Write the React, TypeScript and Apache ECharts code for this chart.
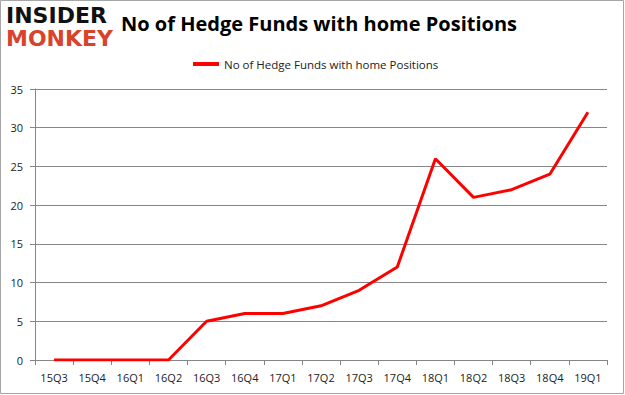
import React, { useEffect, useRef } from "react";
import * as echarts from "echarts";

const categories = ["15Q3", "15Q4", "16Q1", "16Q2", "16Q3", "16Q4", "17Q1", "17Q2", "17Q3", "17Q4", "18Q1", "18Q2", "18Q3", "18Q4", "19Q1"];
const hedgeFunds = [0, 0, 0, 0, 5, 6, 6, 7, 9, 12, 26, 21, 22, 24, 32];
const seriesName = "No of Hedge Funds with home Positions";
const titleText = "No of Hedge Funds with home Positions";

export default function App() {
  const ref = useRef<HTMLDivElement>(null);
  useEffect(() => {
    document.body.style.margin = "0";
    const chart = echarts.init(ref.current!, null, { renderer: "svg" });
    const font = "'Open Sans', 'DejaVu Sans', sans-serif";
    chart.setOption({
      animation: false,
      backgroundColor: "#ffffff",
      title: {
        text: titleText,
        left: 314,
        textAlign: "center",
        top: 8,
        textStyle: { fontFamily: font, fontSize: 20, fontWeight: "bold", color: "#000" },
      },
      legend: {
        data: [seriesName],
        top: 53,
        left: 188,
        itemWidth: 26,
        itemHeight: 4,
        icon: "rect",
        itemGap: 4,
        textStyle: { fontFamily: font, fontSize: 11.5, color: "#222" },
      },
      grid: { left: 35, right: 18, top: 89, bottom: 35 },
      xAxis: {
        type: "category",
        data: categories,
        boundaryGap: true,
        axisLine: { lineStyle: { color: "#868686" } },
        axisTick: { show: true, alignWithLabel: false, length: 5, lineStyle: { color: "#868686" } },
        axisLabel: { fontFamily: font, fontSize: 11, color: "#222", margin: 12 },
      },
      yAxis: {
        type: "value",
        min: 0,
        max: 35,
        interval: 5,
        axisLine: { show: true, lineStyle: { color: "#868686" } },
        axisTick: { show: true, length: 5, lineStyle: { color: "#868686" } },
        axisLabel: { fontFamily: font, fontSize: 11, color: "#222", margin: 12 },
        splitLine: { lineStyle: { color: "#868686" } },
      },
      series: [
        {
          name: seriesName,
          type: "line",
          data: hedgeFunds,
          symbol: "none",
          lineStyle: { color: "#ff0000", width: 3 },
          itemStyle: { color: "#ff0000" },
        },
      ],
      graphic: [
        {
          type: "rect",
          shape: { x: 0.5, y: 0.5, width: 623, height: 393 },
          style: { fill: "none", stroke: "#a6a6a6", lineWidth: 1 },
          silent: true,
        },
        {
          type: "text",
          x: 6,
          y: 4,
          style: { text: "INSIDER", fontFamily: "'DejaVu Sans', sans-serif", fontSize: 22, fontWeight: 900, fill: "#111" },
        },
        {
          type: "text",
          x: 6,
          y: 27,
          style: { text: "MONKEY", fontFamily: "'DejaVu Sans', sans-serif", fontSize: 22, fontWeight: 900, fill: "#d8432b" },
        },
      ],
    });
    return () => chart.dispose();
  }, []);
  return <div ref={ref} style={{ width: 625, height: 395 }} />;
}
